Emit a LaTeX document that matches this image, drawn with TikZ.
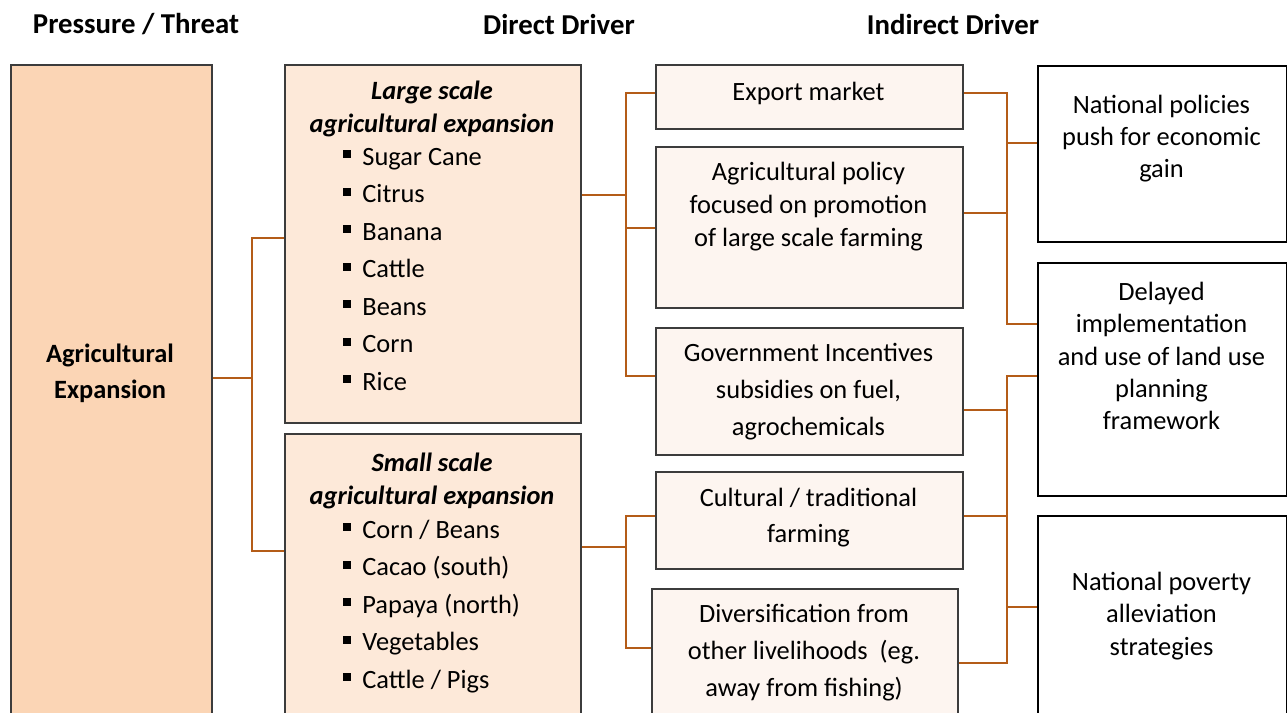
\documentclass[tikz,border=0pt]{standalone}
\usepackage{fontspec}
\setmainfont{Carlito}
\definecolor{linkbrown}{RGB}{180,92,24}
\definecolor{boxgray}{RGB}{60,60,60}
\definecolor{threatfill}{RGB}{251,213,181}
\definecolor{directfill}{RGB}{253,233,217}
\definecolor{indirfill}{RGB}{253,245,240}
\newcommand{\sqbullet}{\rule[3.5pt]{4pt}{3.8pt}\hspace{5.5pt}}

\begin{document}
\begin{tikzpicture}[x=0.5pt,y=0.5pt,yscale=-1,xscale=1,
    box/.style={draw=boxgray, line width=0.75pt, inner sep=0pt, anchor=north west},
    link/.style={draw=linkbrown, line width=1pt},
    txt/.style={inner sep=0pt, align=center, font=\fontsize{13.2}{16.5}\selectfont},
    head/.style={inner sep=0pt, font=\fontsize{14.4}{17}\selectfont\bfseries},
    item/.style={inner sep=0pt, anchor=base west, font=\fontsize{13.2}{16.5}\selectfont}]
                \useasboundingbox (0,0) rectangle (1287,713);
                \clip (0,0) rectangle (1287,713);

                % Column heads
                \node[head] (h-threat) at (136,24) {Pressure / Threat};
                \node[head] (h-direct) at (559,24) {Direct Driver};
                \node[head] (h-indirect) at (953,24) {Indirect Driver};

                %Shape: Rectangle -- pressure
                \node[box, fill=threatfill, minimum width=100.5pt, minimum height=333pt] (agri) at (10,64) {};
                %Shape: Rectangle -- direct drivers
                \node[box, fill=directfill, minimum width=148pt, minimum height=179pt] (large) at (284,64) {};
                \node[box, fill=directfill, minimum width=148pt, minimum height=148.5pt] (small) at (284,433) {};
                %Shape: Rectangle -- indirect drivers
                \node[box, fill=indirfill, minimum width=153.5pt, minimum height=32pt] (exp) at (655,64) {};
                \node[box, fill=indirfill, minimum width=153.5pt, minimum height=80.5pt] (agpol) at (655,146) {};
                \node[box, fill=indirfill, minimum width=153.5pt, minimum height=63.5pt] (gov) at (655,327) {};
                \node[box, fill=indirfill, minimum width=153.5pt, minimum height=48.5pt] (cult) at (655,471) {};
                \node[box, fill=indirfill, minimum width=153pt, minimum height=71pt] (div) at (651,588) {};
                %Shape: Rectangle -- national level
                \node[box, draw=black, fill=white, minimum width=124.5pt, minimum height=88pt] (natpol) at (1037,65) {};
                \node[box, draw=black, fill=white, minimum width=124.5pt, minimum height=116.5pt] (delay) at (1037,262) {};
                \node[box, draw=black, fill=white, minimum width=124.5pt, minimum height=107.5pt] (pov) at (1037,515) {};

                %Straight Lines -- pressure to direct
                \coordinate (jA) at (252,378);
                \draw[link] (agri.east |- jA) -- (jA);
                \draw[link] (large.west |- 0,238) -| (jA) |- (small.west |- 0,551);

                %Straight Lines -- direct to indirect
                \coordinate (jB) at (626,195);
                \draw[link] (large.east |- jB) -- (jB);
                \draw[link] (exp.west |- 0,93) -| (jB) |- (gov.west |- 0,376);
                \draw[link] (jB |- 0,228) -- (agpol.west |- 0,228);
                \coordinate (jC) at (626,547);
                \draw[link] (small.east |- jC) -- (jC);
                \draw[link] (cult.west |- 0,516) -| (jC) |- (div.west |- 0,648);

                %Straight Lines -- indirect to national
                \coordinate (jD) at (1007,143);
                \draw[link] (exp.east |- 0,93) -| (jD) |- (delay.west |- 0,324);
                \draw[link] (agpol.east |- 0,213) -- (jD |- 0,213);
                \draw[link] (jD) -- (natpol.west |- jD);
                \coordinate (jE) at (1007,607);
                \draw[link] (delay.west |- 0,376) -| (jE) |- (div.east |- 0,663);
                \draw[link] (gov.east |- 0,410) -- (jE |- 0,410);
                \draw[link] (cult.east |- 0,516) -- (jE |- 0,516);
                \draw[link] (jE) -- (pov.west |- jE);

                % Text Node
                \node[txt, font=\fontsize{13.2}{18}\selectfont\bfseries] (agri-t) at (110,373) {Agricultural\\Expansion};
                \node[txt, font=\fontsize{13.2}{16.5}\selectfont\bfseries\itshape] (large-t) at (432,108.5) {Large scale\\agricultural expansion};
                \foreach \crop [count=\i] in {Sugar Cane, Citrus, Banana, Cattle, Beans, Corn, Rice}
                  \node[item] (large-\i) at (343,{165+37.5*(\i-1)}) {\sqbullet\crop};
                \node[txt, font=\fontsize{13.2}{16.5}\selectfont\bfseries\itshape] (small-t) at (432,480.5) {Small scale\\agricultural expansion};
                \foreach \crop [count=\i] in {Corn / Beans, Cacao (south), Papaya (north), Vegetables, Cattle / Pigs}
                  \node[item] (small-\i) at (343,{538+37.5*(\i-1)}) {\sqbullet\crop};

                % Text Node
                \node[txt] (exp-t) at (808.5,93) {Export market};
                \node[txt] (agpol-t) at (808.5,207) {Agricultural policy\\focused on promotion\\of large scale farming};
                \node[txt, font=\fontsize{13.2}{18.5}\selectfont] (gov-t) at (808.5,392) {Government Incentives\\subsidies on fuel,\\agrochemicals};
                \node[txt, font=\fontsize{13.2}{18}\selectfont] (cult-t) at (808.5,518) {Cultural / traditional\\farming};
                \node[txt, font=\fontsize{13.2}{18.5}\selectfont] (div-t) at (804,653) {Diversification from\\other livelihoods~ (eg.\\away from fishing)};

                % Text Node
                \node[txt, font=\fontsize{13.2}{16}\selectfont] (natpol-t) at (1161.5,139) {National policies\\push for economic\\gain};
                \node[txt, font=\fontsize{13.2}{16.2}\selectfont] (delay-t) at (1161.5,356) {Delayed\\implementation\\and use of land use\\planning\\framework};
                \node[txt, font=\fontsize{13.2}{16.2}\selectfont] (pov-t) at (1161.5,616) {National poverty\\alleviation\\strategies};
\end{tikzpicture}
\end{document}
